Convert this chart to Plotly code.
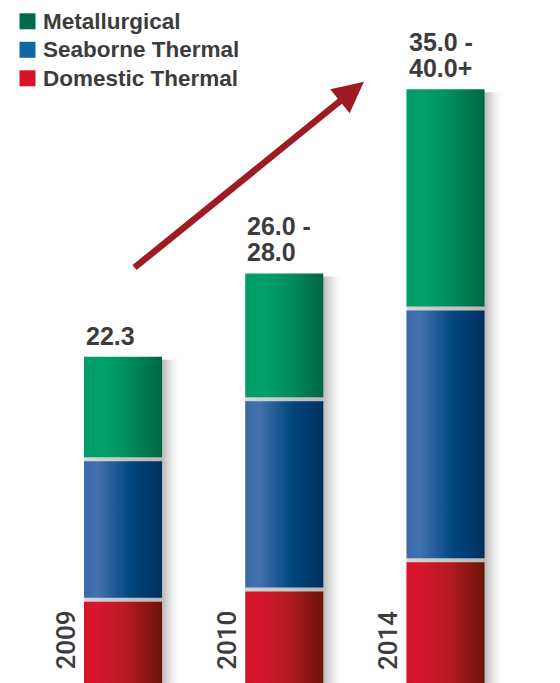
import plotly.graph_objects as go

# ---- data -------------------------------------------------------------
years = ["2009", "2010", "2014"]
domestic_thermal = [5.7, 6.4, 8.4]
seaborne_thermal = [9.6, 13.0, 17.2]
metallurgical = [7.0, 8.6, 15.0]
total_labels = [["22.3"], ["26.0 -", "28.0"], ["35.0 -", "40.0+"]]

series_names = ["Domestic Thermal", "Seaborne Thermal", "Metallurgical"]
series_values = [domestic_thermal, seaborne_thermal, metallurgical]

# ---- styling ----------------------------------------------------------
W, H = 560, 683
X_RANGE = [-0.763, 2.710]
Y_RANGE = [0, 46.7]
BAR_W = 0.484

bar_gradients = {
    "Domestic Thermal": [[0, "#d5132a"], [0.15, "#d8172c"], [0.55, "#b41b21"], [1, "#6b1406"]],
    "Seaborne Thermal": [[0, "#3b69a8"], [0.18, "#4171ae"], [0.6, "#00467f"], [1, "#002f5e"]],
    "Metallurgical": [[0, "#009c69"], [0.25, "#00a06b"], [0.6, "#008a5c"], [1, "#006642"]],
}
legend_colors = {
    "Metallurgical": "#006b4a",
    "Seaborne Thermal": "#0d69a3",
    "Domestic Thermal": "#d8122b",
}
TEXT = "#3c3c3c"
FONT = "Liberation Sans, Arial, sans-serif"


def px_x(p):
    return p * (X_RANGE[1] - X_RANGE[0]) / W


def px_y(p):
    return p * (Y_RANGE[1] - Y_RANGE[0]) / H


GAP = px_y(4)
SHADOW = px_x(20)

fig = go.Figure()

# soft drop shadows behind each column
for i in range(len(years)):
    total = sum(v[i] for v in series_values)
    left, right = i - BAR_W / 2, i + BAR_W / 2 + SHADOW
    f = BAR_W / (BAR_W + SHADOW)
    fig.add_trace(go.Scatter(
        x=[left, right, right, left, left],
        y=[0, 0, total - px_y(3), total - px_y(3), 0],
        mode="lines", line=dict(width=0), fill="toself",
        fillgradient=dict(type="horizontal", colorscale=[
            [0, "rgb(214,214,214)"], [f, "rgb(184,184,184)"],
            [f + (1 - f) * 0.35, "rgba(210,210,210,0.75)"],
            [1, "rgba(255,255,255,0)"]]),
        hoverinfo="skip", showlegend=False,
    ))

# stacked segments with a horizontal shading
n = len(series_values)
for i, year in enumerate(years):
    base = 0.0
    for k, (name, vals) in enumerate(zip(series_names, series_values)):
        v = vals[i]
        lo = base + (GAP / 2 if k > 0 else 0)
        hi = base + v - (GAP / 2 if k < n - 1 else 0)
        left, right = i - BAR_W / 2, i + BAR_W / 2
        fig.add_trace(go.Scatter(
            x=[left, right, right, left, left],
            y=[lo, lo, hi, hi, lo],
            mode="lines", line=dict(width=0), fill="toself",
            fillgradient=dict(type="horizontal", colorscale=bar_gradients[name]),
            name=name, text=f"{year} {name}: {v}", hoverinfo="text",
            showlegend=False,
        ))
        base += v

annotations = []
shapes = []

# total labels above each column
for i, lines in enumerate(total_labels):
    total = sum(v[i] for v in series_values)
    for j, line in enumerate(reversed(lines)):
        annotations.append(dict(
            x=i - BAR_W / 2, y=total, xref="x", yref="y",
            xanchor="left", yanchor="bottom", yshift=5 + 26 * j,
            text=f"<b>{line}</b>", showarrow=False,
            font=dict(family=FONT, size=25, color=TEXT),
        ))

# year labels, rotated, beside each column base
for i, year in enumerate(years):
    annotations.append(dict(
        x=i - BAR_W / 2 - px_x(19), y=0, xref="x", yref="y",
        xanchor="center", yanchor="bottom", yshift=11,
        text=year, textangle=-90, showarrow=False,
        font=dict(family="Roboto, " + FONT, size=26, color=TEXT, weight=500),
    ))

# growth arrow
annotations.append(dict(
    x=1.494, y=41.11, ax=0.062, ay=28.32, xref="x", yref="y",
    axref="x", ayref="y", text="", showarrow=True,
    arrowhead=2, arrowwidth=6.5, arrowsize=0.95, arrowcolor="#9e1b22",
    standoff=0, startstandoff=0,
))

# legend
for r, name in enumerate(["Metallurgical", "Seaborne Thermal", "Domestic Thermal"]):
    cy = 21.3 + 28.5 * r
    shapes.append(dict(
        type="rect", xref="paper", yref="paper",
        x0=19.5 / W, x1=35.5 / W, y0=1 - (cy + 8) / H, y1=1 - (cy - 8) / H,
        fillcolor=legend_colors[name], line=dict(width=0), layer="above",
    ))
    annotations.append(dict(
        x=40.5 / W, y=1 - cy / H, xref="paper", yref="paper",
        xanchor="left", yanchor="middle",
        text=f"<b>{name}</b>", showarrow=False,
        font=dict(family=FONT, size=22.5, color=TEXT),
    ))

fig.update_layout(
    width=W, height=H,
    margin=dict(l=0, r=0, t=0, b=0),
    paper_bgcolor="white", plot_bgcolor="white",
    xaxis=dict(range=X_RANGE, visible=False, fixedrange=True),
    yaxis=dict(range=Y_RANGE, visible=False, fixedrange=True),
    annotations=annotations, shapes=shapes,
    showlegend=False,
)

fig.write_html("out.html")
